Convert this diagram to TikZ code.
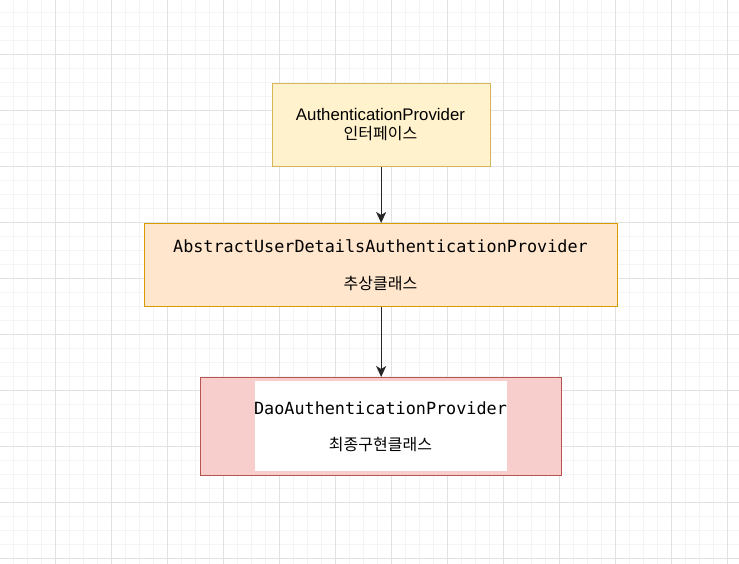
\documentclass[tikz,border=0pt]{standalone}
\usepackage{fontspec}
\setmainfont{Liberation Sans}
\newfontfamily\monof{DejaVu Sans Mono}
\newfontfamily\krf{Noto Sans CJK KR}
\usetikzlibrary{arrows.meta}
\definecolor{gmajor}{HTML}{E2E2E2}
\definecolor{gminor}{HTML}{F4F4F4}
\definecolor{yfill}{HTML}{FFF2CC}
\definecolor{ydraw}{HTML}{D6B656}
\definecolor{ofill}{HTML}{FFE6CC}
\definecolor{odraw}{HTML}{D79B00}
\definecolor{rfill}{HTML}{F8CECC}
\definecolor{rdraw}{HTML}{B85450}
\tikzset{
  box/.style={draw, line width=1.3pt, inner sep=0pt},
  conn/.style={draw=black!85, line width=1.3pt, -{Stealth[length=11pt,width=10pt,inset=3pt]}},
  mono/.style={font=\monof\fontsize{16.8}{20}\selectfont, inner sep=0pt},
  sans/.style={font=\fontsize{16.8}{20}\selectfont, inner sep=0pt},
  kr/.style={font=\krf\fontsize{16}{19}\selectfont, inner sep=0pt},
}
\begin{document}
\begin{tikzpicture}[x=1pt,y=-1pt]
\useasboundingbox (0,0) rectangle (739,564);
\fill[white] (0,0) rectangle (739,564);
% minor grid
\foreach \i in {0,...,53} {
  \draw[gminor, line width=0.8pt] ({-0.7+14*\i},0) -- ({-0.7+14*\i},564);
}
\foreach \i in {0,...,41} {
  \draw[gminor, line width=0.8pt] (0,{-1.7+14*\i}) -- (739,{-1.7+14*\i});
}
% major grid
\foreach \i in {0,...,12} {
  \draw[gmajor, line width=0.8pt] ({55.3+56*\i},0) -- ({55.3+56*\i},564);
}
\foreach \i in {0,...,9} {
  \draw[gmajor, line width=0.8pt] (0,{54.3+56*\i}) -- (739,{54.3+56*\i});
}
% boxes
\node[box, draw=ydraw, fill=yfill, minimum width=218pt, minimum height=83pt, anchor=north west] (b1) at (271.5,83) {};
\node[box, draw=odraw, fill=ofill, minimum width=473pt, minimum height=83pt, anchor=north west] (b2) at (144,223) {};
\node[box, draw=rdraw, fill=rfill, minimum width=361pt, minimum height=98pt, anchor=north west] (b3) at (200,377) {};
\node[fill=white, inner sep=0pt, minimum width=252pt, minimum height=90pt, anchor=north west] (b3in) at (254.5,381) {};
% texts
\node[sans] (t1) at (380.5,114) {AuthenticationProvider};
\node[kr] (k1) at (380.5,134) {인터페이스};
\node[mono] (t2) at (380.5,246) {AbstractUserDetailsAuthenticationProvider};
\node[kr] (k2) at (380.5,284) {추상클래스};
\node[mono] (t3) at (380.5,408) {DaoAuthenticationProvider};
\node[kr] (k3) at (380.5,445) {최종구현클래스};
% connectors
\draw[conn] (b1.south) -- (b2.north);
\draw[conn] (b2.south) -- (b3.north);
\end{tikzpicture}
\end{document}
